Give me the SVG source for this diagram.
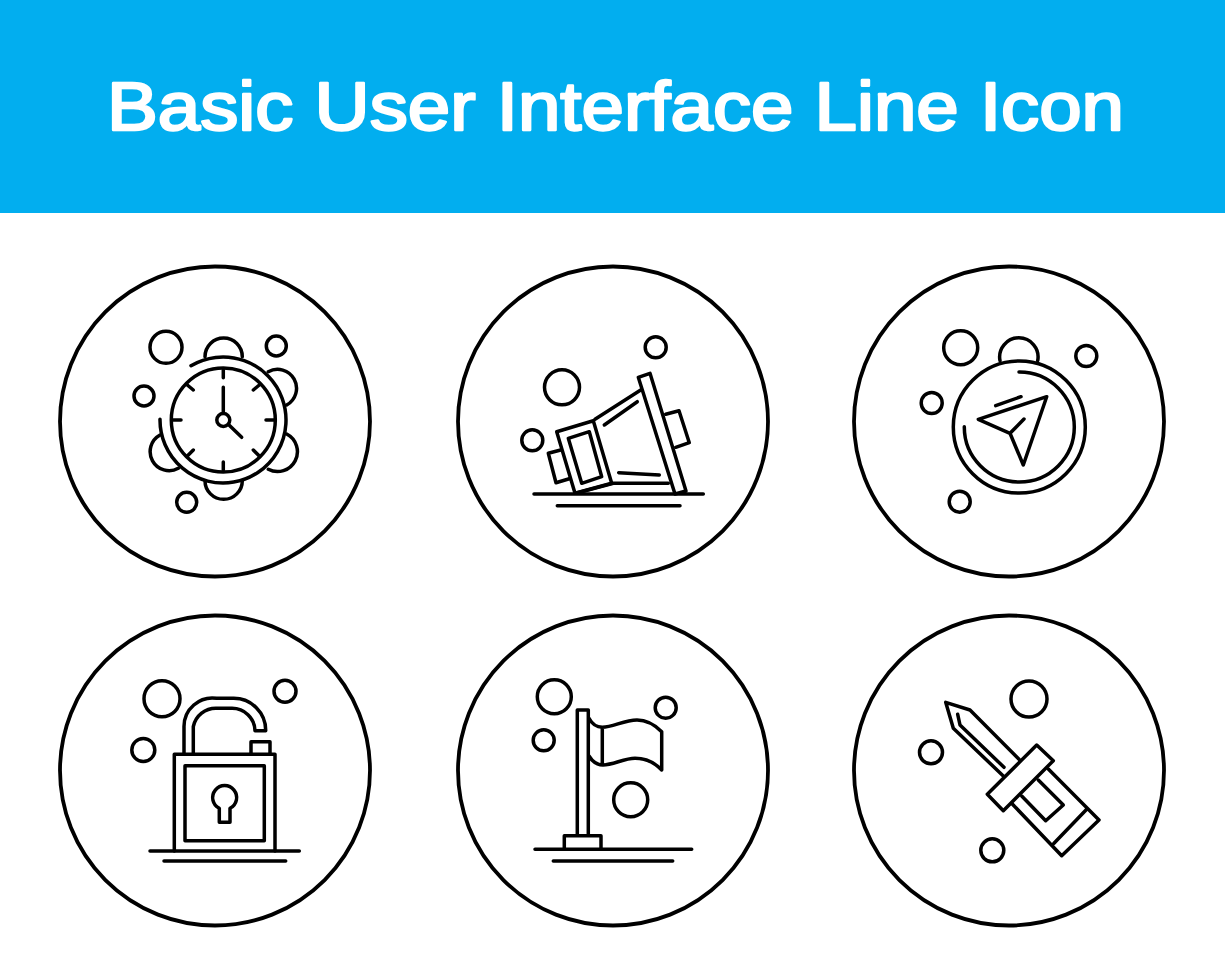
<svg xmlns="http://www.w3.org/2000/svg" width="1225" height="980" viewBox="0 0 1225 980">
<style>
.t{font-family:"Liberation Sans",Arial,sans-serif;font-size:68px;font-weight:400;fill:#fff;stroke:#fff;stroke-width:2.4;stroke-linejoin:round}
.r{fill:none;stroke:#000;stroke-width:3.8}
.l{fill:none;stroke:#000;stroke-width:3.5;stroke-linecap:round;stroke-linejoin:round}
</style>
<rect width="1225" height="980" fill="#fff"/>
<g id="header"><rect width="1225" height="213" fill="#02aeef"/>
<text class="t" x="107" y="130" textLength="1017" lengthAdjust="spacingAndGlyphs">Basic User Interface Line Icon</text></g>
<g id="clock">
<circle class="r" cx="215" cy="421.5" r="155"/>
<g class="l">
<circle cx="223.3" cy="420" r="52"/>
<path d="M191 365.7A63 63 0 1 1 160 419.3"/>
<path d="M205 356.7A10 10 0 0 1 242.3 356.7M268.3 371.7A10 10 0 0 1 286.7 405M286.7 434A10 10 0 0 1 268.3 469.3M242.3 480.7A10 10 0 0 1 205 480.7M178.3 468.3A10 10 0 0 1 160 435"/>
<path d="M223.3 370V377.7M223.3 462V470M173 420H181M266 420H274M187.3 385L193.3 390M259.3 385L253.3 390M187.3 456L193.3 450M259.3 456L253.3 450"/>
<circle cx="223.3" cy="420" r="6.5"/>
<path d="M223.3 387.3V413M229 425L241.7 437.3"/>
<circle cx="166" cy="347.3" r="16"/><circle cx="276.3" cy="346" r="10"/><circle cx="144" cy="396" r="10"/><circle cx="186.7" cy="502.3" r="10"/>
</g></g>
<g id="megaphone">
<circle class="r" cx="613" cy="421.5" r="155"/>
<g class="l">
<path d="M638.3 377.3L650 373.3L686 491L675 494Z"/>
<path d="M665.7 414.3L679 410.7L689.3 442.7L675.7 447.3"/>
<path d="M640.7 390L595 419.3M668.3 483.3H613.3L576.7 493"/>
<path d="M556.7 431.7L593.3 420.7L611.7 483.3L575 493.3Z"/>
<path d="M568.3 438.3L589.3 431.7L601.7 476.7L581.7 483.3Z"/>
<path d="M560.7 450L548.3 453.3L556 482.7L569.3 478.7"/>
<path d="M604.3 425L637.3 401.7M618.7 472.7L659.3 475"/>
<path d="M534 494H703.3M557.3 505.7H680"/>
<circle cx="562" cy="387.3" r="17.5"/><circle cx="655.7" cy="347.3" r="10.5"/><circle cx="532.3" cy="440.3" r="10.5"/>
</g></g>
<g id="compass">
<circle class="r" cx="1009" cy="421.5" r="155"/>
<g class="l">
<circle cx="1019.3" cy="427" r="66"/>
<path d="M1019 372A55 55 0 1 1 964.3 426.7"/>
<path d="M1000 360.7A19.2 19.2 0 1 1 1037.7 360.7"/>
<path d="M1046.7 396.7L978.3 419.3L1010 433.3L1023.3 465ZM1010 433.3L1024 419M995.7 405.7L1021 396.7"/>
<circle cx="960.7" cy="347.7" r="17"/><circle cx="1086.3" cy="356" r="10.5"/><circle cx="931.7" cy="403" r="10.5"/><circle cx="959.7" cy="501.7" r="10.5"/>
</g></g>
<g id="lock">
<circle class="r" cx="215" cy="770.5" r="155"/>
<g class="l">
<path d="M174.3 851V754.3H275V851M185 765.7H264.3V840.7H185Z"/>
<path d="M150 851H299.3M164 861H285.7"/>
<path d="M184 753V726.7A28.5 28.5 0 0 1 216.7 698.3H233.3A32 32 0 0 1 265.7 730.7H255A23 23 0 0 0 231.7 708.3H216.7A23 23 0 0 0 193.3 726.7V753"/>
<path d="M251 753.3V741.7H270V753.3"/>
<path d="M219.3 808.3A12 12 0 1 1 230 808.3V822.3H219.3Z"/>
<circle cx="162" cy="698.7" r="18"/><circle cx="285" cy="691.3" r="11"/><circle cx="143.3" cy="750" r="11.5"/>
</g></g>
<g id="flag">
<circle class="r" cx="613" cy="770.5" r="155"/>
<g class="l">
<path d="M577.3 835V710H588.3V835"/>
<path d="M564.3 849.3V835.7H601V849.3"/>
<path d="M535 849.3H691.7M553.3 861H672.7"/>
<path d="M589 718.3C592 724 596 727.3 602.3 727.3C613 727.3 624 720 637 720C647 720 655 725 661.7 731.7V770C655 763 647 758.3 635 758.3C624 758.3 613 765 603 765C596 765 592 761 589 756M602.3 727.3V765"/>
<circle cx="554.3" cy="696.7" r="17"/><circle cx="665.7" cy="707.7" r="10.5"/><circle cx="543.7" cy="740.3" r="10.5"/><circle cx="630.7" cy="799.7" r="17"/>
</g></g>
<g id="screwdriver">
<circle class="r" cx="1009" cy="770.5" r="155"/>
<g class="l">
<path d="M1019 759.3L970 710L945.7 702.3L953.3 728.3L1003.3 776"/>
<path d="M957.7 714.3L960 725L1004 767.3"/>
<path d="M1036.7 745L1053.3 760.7L1003.3 810.7L987.3 794.3Z"/>
<path d="M1048.3 769L1099 820L1061.7 855.7L1012.3 804M1086.7 809.3L1054 843.3"/>
<path d="M1038.3 780L1063.3 805L1045.7 820.7L1021.7 796"/>
<circle cx="1029" cy="699" r="18"/><circle cx="931" cy="752.3" r="11.5"/><circle cx="992.3" cy="850.3" r="11.5"/>
</g></g>
</svg>
